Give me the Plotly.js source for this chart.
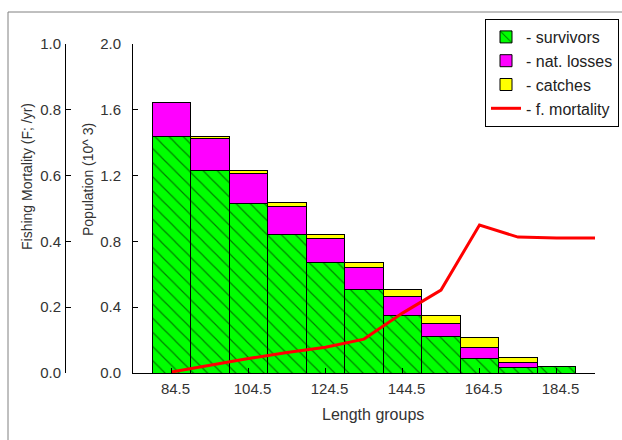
<!DOCTYPE html>
<html>
<head>
<meta charset="utf-8">
<script src="https://cdn.plot.ly/plotly-3.0.1.min.js"></script>
<style>
  html, body { margin: 0; padding: 0; background: #fff; }
  #chart { width: 622px; height: 440px; }
</style>
</head>
<body>
<div id="chart"></div>
<script>
// Length-class midpoints (cm)
const lengthGroups = [84.5, 94.5, 104.5, 114.5, 124.5, 134.5, 144.5, 154.5, 164.5, 174.5, 184.5];

// Population per length class (thousands), stacked
const survivors = [1.435, 1.232, 1.033, 0.840, 0.672, 0.510, 0.349, 0.221, 0.089, 0.035, 0.038];
const natLosses = [0.211, 0.191, 0.179, 0.173, 0.148, 0.134, 0.116, 0.081, 0.065, 0.026, 0.000];
const catches   = [0.000, 0.012, 0.022, 0.024, 0.025, 0.030, 0.045, 0.047, 0.063, 0.035, 0.000];

// Fishing mortality (F; /yr) at each class midpoint, plus one class beyond
const mortalityX = [84.5, 94.5, 104.5, 114.5, 124.5, 134.5, 144.5, 154.5, 164.5, 174.5, 184.5, 194.5];
const mortalityF = [0.003, 0.024, 0.044, 0.062, 0.078, 0.103, 0.182, 0.252, 0.450, 0.413, 0.410, 0.410];

// Tick labels
const xTickVals = [84.5, 104.5, 124.5, 144.5, 164.5, 184.5];
const xTickText = ['84.5', '104.5', '124.5', '144.5', '164.5', '184.5'];

const W = 622, H = 440;
const px = v => v / W;
const py = v => (H - v) / H;

const FONT = 'Liberation Sans, Arial, sans-serif';
const TXT = '#333333';
const barLine = { color: '#000000', width: 1 };

const traces = [
  {
    type: 'bar', name: '- survivors', x: lengthGroups, y: survivors,
    marker: {
      color: '#00ff00', line: barLine,
      pattern: { shape: '\\', fgcolor: '#000000', bgcolor: '#00ff00', size: 10, solidity: 0.12, fillmode: 'overlay' }
    }
  },
  {
    type: 'bar', name: '- nat. losses', x: lengthGroups, y: natLosses,
    marker: { color: '#ff00ff', line: barLine }
  },
  {
    type: 'bar', name: '- catches', x: lengthGroups, y: catches,
    marker: { color: '#ffff00', line: barLine }
  },
  {
    type: 'scatter', mode: 'lines', name: '- f. mortality', x: mortalityX, y: mortalityF,
    yaxis: 'y2', cliponaxis: false,
    line: { color: '#ff0000', width: 3 }
  }
];

const layout = {
  width: W, height: H,
  margin: { l: 0, r: 0, t: 0, b: 0 },
  paper_bgcolor: '#ffffff', plot_bgcolor: 'rgba(0,0,0,0)',
  font: { family: FONT, size: 15, color: TXT },
  barmode: 'stack', bargap: 0,
  showlegend: true,
  legend: {
    x: px(485), y: py(19), xanchor: 'left', yanchor: 'top',
    bgcolor: '#ffffff', bordercolor: '#000000', borderwidth: 1,
    font: { family: FONT, size: 16, color: '#222222' },
    traceorder: 'normal', itemwidth: 30, tracegroupgap: 0
  },
  xaxis: {
    domain: [px(133), px(595)], range: [74.5, 194.5],
    tickvals: xTickVals, ticktext: xTickText,
    ticks: 'inside', ticklen: 5, tickcolor: '#000000',
    showline: true, linecolor: '#000000', linewidth: 1,
    showgrid: false, zeroline: false, ticklabelshift: 4, ticklabelstandoff: 2,
    tickfont: { family: FONT, size: 15, color: TXT }
  },
  yaxis: {
    domain: [py(373), py(44)], range: [0, 2], dtick: 0.4, tickformat: '.1f',
    ticks: 'inside', ticklen: 5, tickcolor: '#000000',
    showline: true, linecolor: '#000000', linewidth: 1,
    showgrid: false, zeroline: false, ticklabelstandoff: 8,
    tickfont: { family: FONT, size: 15, color: TXT }
  },
  yaxis2: {
    overlaying: 'y', anchor: 'free', position: px(65), side: 'left',
    range: [0, 1], dtick: 0.2, tickformat: '.1f',
    ticks: 'inside', ticklen: 5, tickcolor: '#000000',
    showline: true, linecolor: '#000000', linewidth: 1,
    showgrid: false, zeroline: false, ticklabelstandoff: 1,
    tickfont: { family: FONT, size: 15, color: TXT }
  },
  annotations: [
    { text: 'Fishing Mortality (F; /yr)', xref: 'paper', yref: 'paper', x: px(27), y: py(177),
      xanchor: 'center', yanchor: 'middle', textangle: -90, showarrow: false,
      font: { family: FONT, size: 14, color: TXT } },
    { text: 'Population (10^ 3)', xref: 'paper', yref: 'paper', x: px(88), y: py(180),
      xanchor: 'center', yanchor: 'middle', textangle: -90, showarrow: false,
      font: { family: FONT, size: 14, color: TXT } },
    { text: 'Length groups', xref: 'paper', yref: 'paper', x: px(373), y: py(414),
      xanchor: 'center', yanchor: 'middle', showarrow: false,
      font: { family: FONT, size: 16, color: TXT } }
  ],
  shapes: [
    { type: 'rect', xref: 'paper', yref: 'paper', x0: px(8), x1: 1.05, y0: -0.05, y1: py(12),
      line: { color: '#808080', width: 1 }, fillcolor: 'rgba(0,0,0,0)', layer: 'below' }
  ]
};

Plotly.newPlot('chart', traces, layout, { displayModeBar: false, staticPlot: true });
</script>
</body>
</html>
